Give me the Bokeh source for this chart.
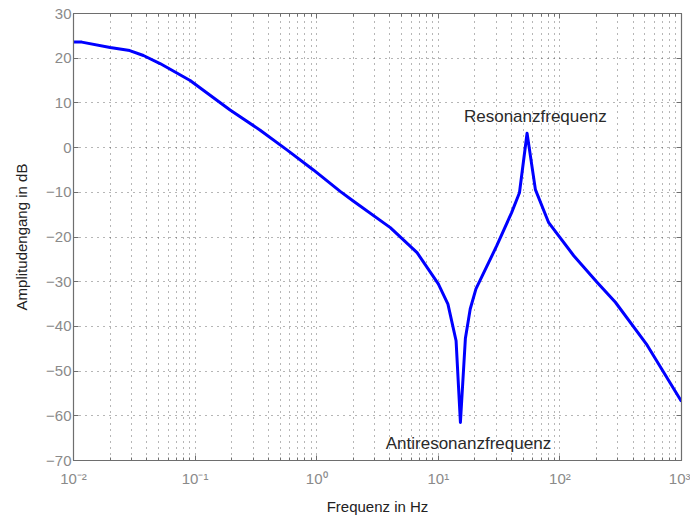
from bokeh.plotting import figure
from bokeh.models import (LogAxis, LinearAxis, FixedTicker, Range1d)
from bokeh.core.properties import value
from bokeh.embed import file_html
from bokeh.resources import INLINE

# ---- data ----
freq = [0.01, 0.0117, 0.02, 0.029, 0.0376, 0.0515, 0.091, 0.194, 0.343, 0.569,
        0.94, 1.56, 2.01, 4.03, 6.69, 10.0, 12.0, 14.0, 15.2, 16.7, 18.3, 20.4,
        30.2, 40.0, 46.5, 53.7, 62.9, 80.9, 130, 202, 286, 522, 1000]
amp_db = [23.6, 23.6, 22.4, 21.7, 20.6, 18.8, 15.0, 8.4, 3.9, -0.5,
          -5.0, -9.8, -12.0, -17.9, -23.5, -30.5, -35.0, -43.2, -61.5, -42.7, -36.1, -31.6,
          -22.0, -14.6, -10.1, 3.2, -9.4, -16.8, -24.2, -30.1, -34.6, -44.2, -56.8]

x_ticks = [0.01, 0.1, 1, 10, 100, 1000]
x_tick_labels = ["10\u207b\u00b2", "10\u207b\u00b9", "10\u2070", "10\u00b9", "10\u00b2", "10\u00b3"]
x_minor_mult = [2, 3, 4, 5, 6, 7, 8, 9]
y_ticks = [-70, -60, -50, -40, -30, -20, -10, 0, 10, 20, 30]

annot_x = [62.8, 17.7]
annot_y = [7.0, -66.3]
annot_text = ["Resonanzfrequenz", "Antiresonanzfrequenz"]

x_label = "Frequenz in Hz"
y_label = "Amplitudengang in dB"

# ---- figure ----
FONT = "Liberation Sans"
AX_COL = "#6e6e6e"
TICK_LBL_COL = "#8a8a8a"
GRID_COL = "#3c3c3c"

minor_ticks = [m * t for t in x_ticks[:-1] for m in x_minor_mult]
xticker = FixedTicker(ticks=x_ticks, minor_ticks=minor_ticks)
yticker = FixedTicker(ticks=y_ticks, minor_ticks=[])

p = figure(width=690, height=517, x_axis_type="log",
           x_range=Range1d(x_ticks[0], x_ticks[-1]), y_range=Range1d(y_ticks[0], y_ticks[-1]),
           output_backend="svg", toolbar_location=None,
           min_border_left=73, min_border_right=9, min_border_top=13, min_border_bottom=54)
p.background_fill_color = "white"
p.border_fill_color = "white"
p.outline_line_color = AX_COL

# bottom axis
xa = p.xaxis[0]
xa.ticker = xticker
xa.major_label_overrides = {k: v for k, v in zip(x_ticks, x_tick_labels)}
xa.axis_label = x_label
xa.axis_label_text_font = FONT
xa.axis_label_text_font_size = "15px"
xa.axis_label_text_font_style = "normal"
xa.axis_label_text_color = "#222222"
xa.axis_label_standoff = 8
xa.major_label_text_font = FONT
xa.major_label_text_font_size = "15px"
xa.major_label_text_color = TICK_LBL_COL
xa.major_label_standoff = 9

# left axis
ya = p.yaxis[0]
ya.ticker = yticker
ya.axis_label = y_label
ya.axis_label_text_font = FONT
ya.axis_label_text_font_size = "15px"
ya.axis_label_text_font_style = "normal"
ya.axis_label_text_color = "#222222"
ya.axis_label_standoff = 13
ya.major_label_text_font = FONT
ya.major_label_text_font_size = "15px"
ya.major_label_text_color = TICK_LBL_COL
ya.major_label_standoff = 2

for ax in (xa, ya):
    ax.axis_line_color = AX_COL
    ax.axis_line_width = 1.2
    ax.major_tick_line_color = AX_COL
    ax.minor_tick_line_color = AX_COL
    ax.major_tick_in = 5
    ax.major_tick_out = 0
    ax.minor_tick_in = 3
    ax.minor_tick_out = 0

# top and right axes (ticks only)
top = LogAxis(ticker=xticker)
right = LinearAxis(ticker=yticker)
for ax in (top, right):
    ax.major_label_text_font_size = "1px"
    ax.major_label_text_alpha = 0
    ax.major_label_standoff = 0
    ax.axis_line_color = AX_COL
    ax.axis_line_width = 1.2
    ax.major_tick_line_color = AX_COL
    ax.minor_tick_line_color = AX_COL
    ax.major_tick_in = 5
    ax.major_tick_out = 0
    ax.minor_tick_in = 3
    ax.minor_tick_out = 0
p.add_layout(top, "above")
p.add_layout(right, "right")

# grids
p.xgrid.ticker = xticker
p.ygrid.ticker = yticker
for g in (p.xgrid[0], p.ygrid[0]):
    g.grid_line_color = GRID_COL
    g.grid_line_alpha = 0.75
    g.grid_line_dash = "1 5"
    g.grid_line_width = 1
p.xgrid[0].minor_grid_line_color = GRID_COL
p.xgrid[0].minor_grid_line_alpha = 0.75
p.xgrid[0].minor_grid_line_dash = "1 5"

# curve
p.line(freq, amp_db, line_color="#0000ff", line_width=3, line_join="round")

# annotations
p.text(x=annot_x, y=annot_y, text=annot_text, text_font=value(FONT),
       text_font_size="17px", text_color="#2a2a2a", text_align="center",
       text_baseline="middle")

open("out.html", "w").write(file_html(p, INLINE))
